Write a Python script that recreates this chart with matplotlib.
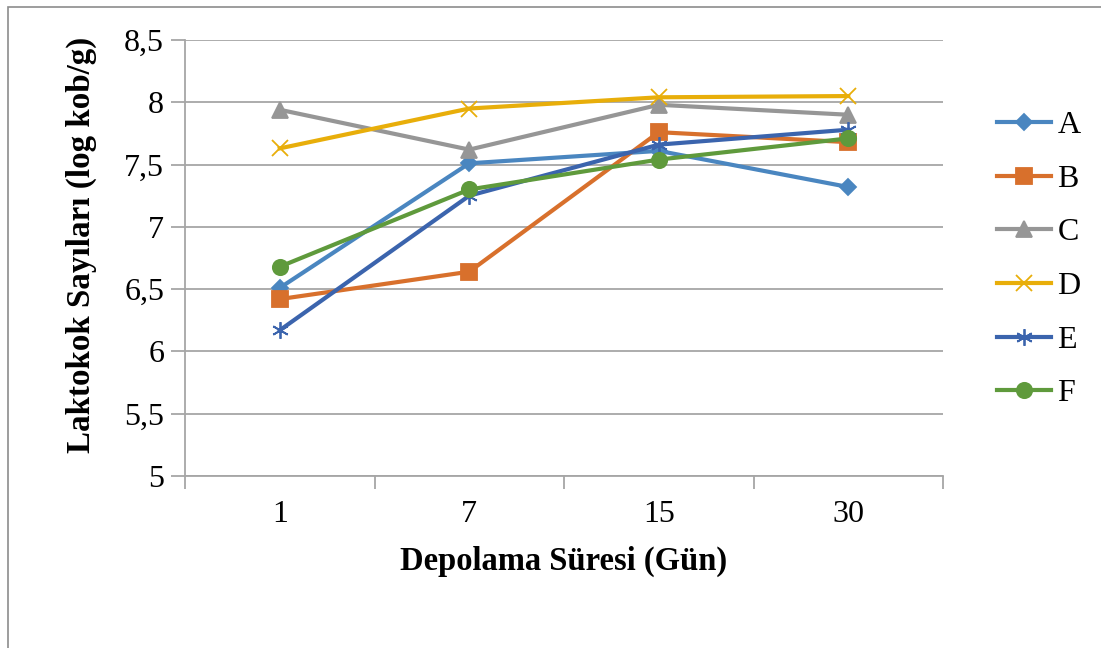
import matplotlib.pyplot as plt
from matplotlib.patches import Rectangle

plt.rcParams['font.family'] = ['Liberation Serif', 'DejaVu Serif']

days = ['1', '7', '15', '30']
series_names = ['A', 'B', 'C', 'D', 'E', 'F']

A = [6.51, 7.51, 7.61, 7.32]
B = [6.42, 6.64, 7.76, 7.68]
C = [7.94, 7.62, 7.98, 7.90]
D = [7.63, 7.95, 8.04, 8.05]
E = [6.17, 7.25, 7.66, 7.78]
F = [6.68, 7.30, 7.54, 7.71]

values = [A, B, C, D, E, F]
colors = ['#4a86c0', '#d8702c', '#969696', '#e8ae0a', '#3b64ad', '#5f9a3c']
markers = ['D', 's', '^', 'x', (6, 2, 0), 'o']
msizes = [8, 11, 11, 12, 12, 11]

fig = plt.figure(figsize=(11.01, 6.48), dpi=100)
ax = fig.add_axes([185 / 1101, 1 - 476 / 648, (943 - 185) / 1101, (476 - 40) / 648])

# thin frame around the chart area
fig.patches.append(Rectangle((8 / 1101, -0.1), 1.2, 1 - 7 / 648 + 0.1,
                             transform=fig.transFigure, fill=False,
                             edgecolor='#8c8c8c', linewidth=1.2))

xs = range(len(days))
for name, vals, c, m, ms in zip(series_names, values, colors, markers, msizes):
    ax.plot(xs, vals, color=c, linewidth=3, marker=m, markersize=ms,
            markeredgewidth=1.3, markeredgecolor=c, label=name, zorder=3)

ax.set_xlim(-0.5, 3.5)
ax.set_ylim(5, 8.5)
ax.set_yticks([5, 5.5, 6, 6.5, 7, 7.5, 8, 8.5])
ax.set_yticklabels(['5', '5,5', '6', '6,5', '7', '7,5', '8', '8,5'])
ax.set_xticks(list(xs))
ax.set_xticklabels(days)
ax.set_xticks([-0.5, 0.5, 1.5, 2.5, 3.5], minor=True)

ax.grid(axis='y', color='#a6a6a6', linewidth=1.3)
ax.set_axisbelow(True)
for s in ['top', 'right']:
    ax.spines[s].set_visible(False)
for s in ['left', 'bottom']:
    ax.spines[s].set_color('#a6a6a6')
    ax.spines[s].set_linewidth(1.3)

ax.tick_params(axis='y', length=10, width=1.3, color='#a6a6a6', labelsize=23, pad=5)
ax.tick_params(axis='x', which='major', length=0, labelsize=23, pad=17)
ax.tick_params(axis='x', which='minor', length=9, width=1.3, color='#a6a6a6')

ax.set_xlabel('Depolama Süresi (Gün)', fontsize=23.5, fontweight='bold', labelpad=12)
ax.set_ylabel('Laktokok Sayıları (log kob/g)', fontsize=23.8, fontweight='bold')
ax.yaxis.set_label_coords(-0.116, 0.53)

leg = ax.legend(loc='upper left', bbox_to_anchor=(1.054, 0.867), frameon=False,
                fontsize=23, handlelength=1.7, handletextpad=0.2, labelspacing=0.76,
                borderaxespad=0)

fig.savefig('out.png', dpi=100)
